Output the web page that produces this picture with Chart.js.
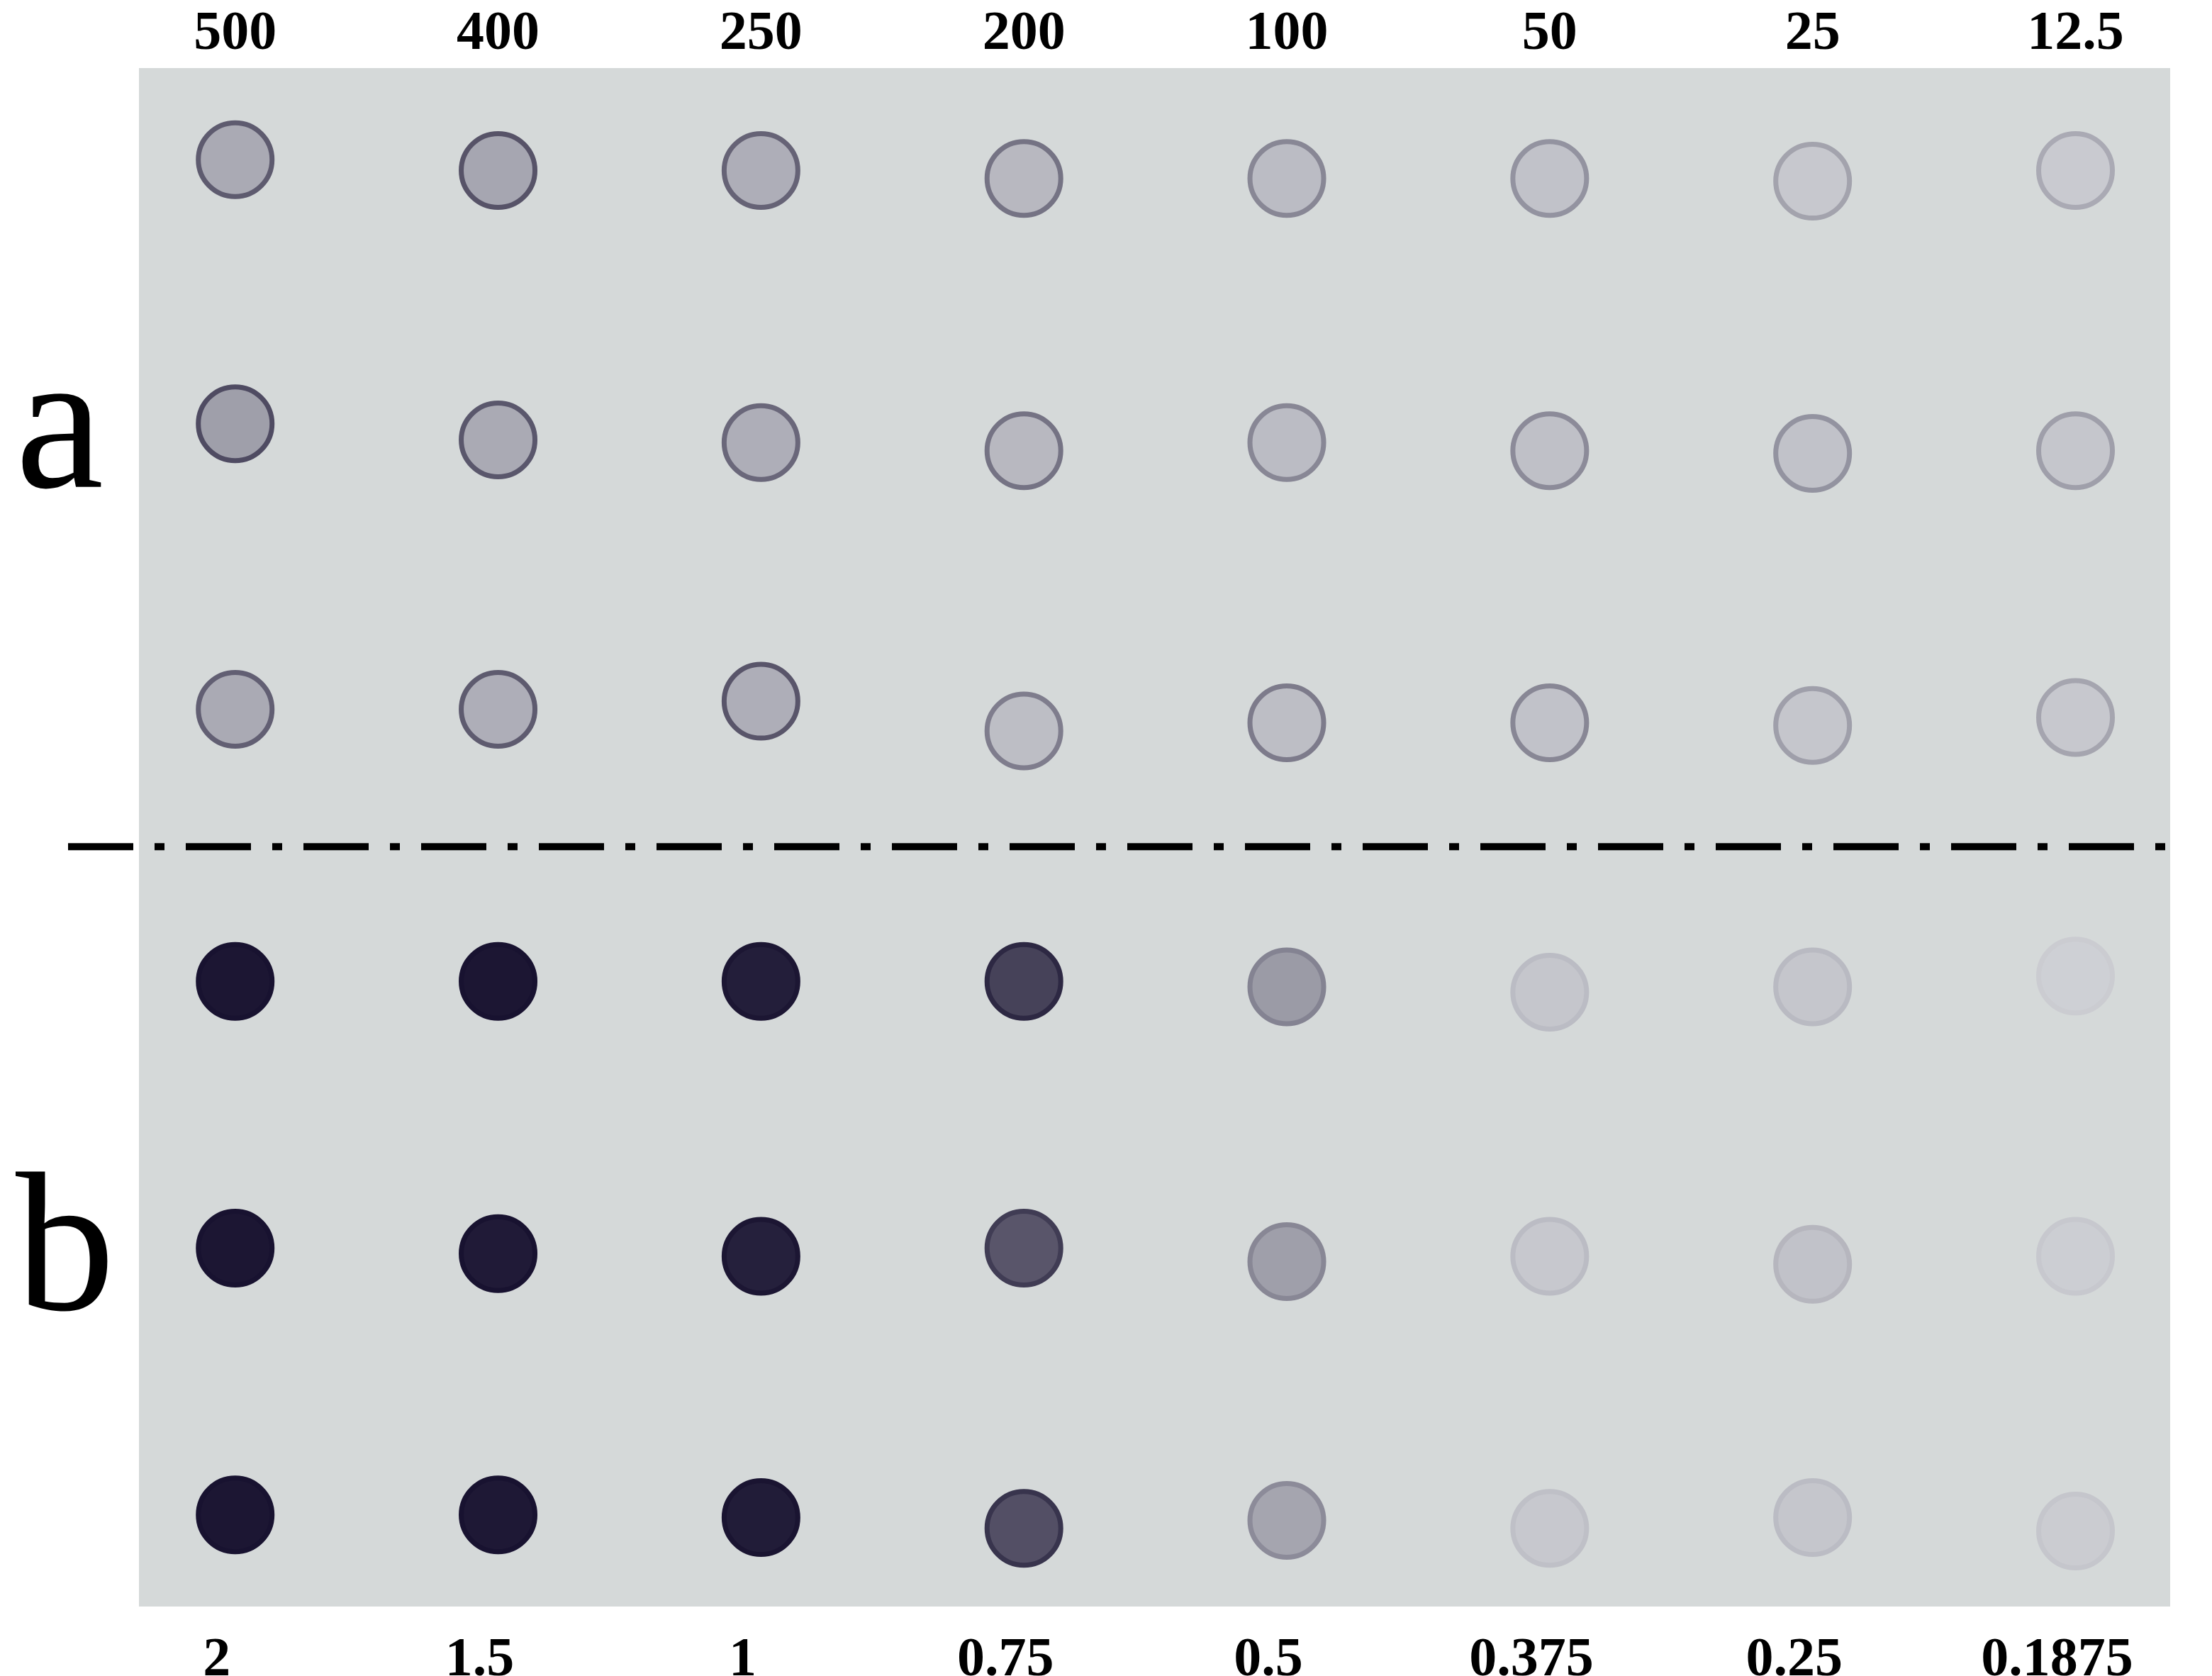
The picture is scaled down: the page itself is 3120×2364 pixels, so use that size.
<!DOCTYPE html>
<html><head><meta charset="utf-8">
<script src="https://cdn.jsdelivr.net/npm/chart.js@4"></script>
<style>html,body{margin:0;background:#fff}</style></head>
<body><canvas id="c" width="3120" height="2364"></canvas>
<script>
const topLabels = ["500","400","250","200","100","50","25","12.5"];
const bottomLabels = ["2","1.5","1","0.75","0.5","0.375","0.25","0.1875"];
const rowNames = ["a","b"];
const rowY = [
 [-0.03,0.01,0.01,0.04,0.04,0.04,0.05,0.01],
 [0.95,1.01,1.02,1.05,1.02,1.05,1.06,1.05],
 [2.01,2.01,1.98,2.09,2.06,2.06,2.07,2.04],
 [3.02,3.02,3.02,3.02,3.04,3.06,3.04,3.00],
 [4.01,4.03,4.04,4.01,4.06,4.04,4.07,4.04],
 [5.00,5.00,5.01,5.05,5.02,5.05,5.01,5.06]
];
const fillDark = [
 [0.22,0.24,0.20,0.15,0.13,0.10,0.07,0.06],
 [0.28,0.22,0.20,0.15,0.13,0.11,0.10,0.08],
 [0.22,0.20,0.20,0.12,0.12,0.10,0.08,0.07],
 [0.97,0.97,0.93,0.75,0.30,0.08,0.08,0.03],
 [0.97,0.95,0.92,0.65,0.28,0.07,0.10,0.04],
 [0.97,0.96,0.94,0.68,0.25,0.07,0.08,0.05]
];
const ringDark = [
 [0.62,0.66,0.58,0.50,0.40,0.34,0.26,0.22],
 [0.70,0.64,0.56,0.50,0.40,0.38,0.34,0.28],
 [0.60,0.62,0.65,0.45,0.46,0.40,0.28,0.25],
 [0.99,0.99,0.97,0.88,0.42,0.13,0.14,0.05],
 [0.99,0.99,0.97,0.78,0.40,0.13,0.16,0.07],
 [0.99,0.99,0.98,0.82,0.38,0.11,0.13,0.08]
];
const dashRow = 2.52;

function col(d){
  const r=Math.round(212+(22-212)*d), g=Math.round(214+(16-214)*d), b=Math.round(218+(46-218)*d);
  return `rgb(${r},${g},${b})`;
}
const pts=[], fills=[], rings=[];
rowY.forEach((row,ri)=>row.forEach((y,ci)=>{pts.push({x:ci,y:y});fills.push(col(fillDark[ri][ci]));rings.push(col(ringDark[ri][ci]));}));

const deco = {
  id:'deco',
  beforeDatasetsDraw(ch){
    const {ctx,chartArea:a}=ch;
    ctx.save();ctx.fillStyle='#d5d9d9';ctx.fillRect(a.left,a.top,a.right-a.left,a.bottom-a.top);ctx.restore();
  },
  afterDraw(ch){
    const {ctx,chartArea:a,scales}=ch;
    ctx.save();
    const y=scales.y.getPixelForValue(dashRow);
    ctx.strokeStyle='#000';ctx.lineWidth=10;ctx.setLineDash([92,30,14,30]);
    ctx.beginPath();ctx.moveTo(96,y);ctx.lineTo(a.right,y);ctx.stroke();
    ctx.fillStyle='#000';ctx.font='280px "Liberation Serif"';ctx.textAlign='center';ctx.textBaseline='alphabetic';
    ctx.fillText(rowNames[0],84,scales.y.getPixelForValue(1.0)+70);
    ctx.fillText(rowNames[1],92,scales.y.getPixelForValue(4.0)+90);
    ctx.restore();
  }
};
const tickFont={family:'"Liberation Serif"',size:78,weight:'bold'};
new Chart(document.getElementById('c'),{
  type:'scatter',
  data:{datasets:[{data:pts,backgroundColor:fills,borderColor:rings,borderWidth:7,pointRadius:52,pointHoverRadius:52}]},
  options:{
    responsive:false,animation:false,devicePixelRatio:1,
    layout:{padding:{left:196,right:0,top:0,bottom:0}},
    plugins:{legend:{display:false},tooltip:{enabled:false}},
    scales:{
      x:{type:'linear',position:'top',min:-0.366,max:7.36,
        afterBuildTicks:s=>{s.ticks=topLabels.map((_,i)=>({value:i}));},
        afterFit:s=>{s.height=96;},
        ticks:{callback:(v)=>topLabels[v],font:tickFont,color:'#000',maxRotation:0,autoSkip:false,padding:-8},
        grid:{display:false},border:{display:false}},
      x2:{type:'linear',position:'bottom',min:-0.296,max:7.43,
        afterBuildTicks:s=>{s.ticks=bottomLabels.map((_,i)=>({value:i}));},
        afterFit:s=>{s.height=98;},
        ticks:{callback:(v)=>bottomLabels[v],font:tickFont,color:'#000',maxRotation:0,autoSkip:false,padding:22},
        grid:{display:false},border:{display:false}},
      y:{type:'linear',display:false,reverse:true,min:-0.37,max:5.34}
    }
  },
  plugins:[deco]
});
</script></body></html>
